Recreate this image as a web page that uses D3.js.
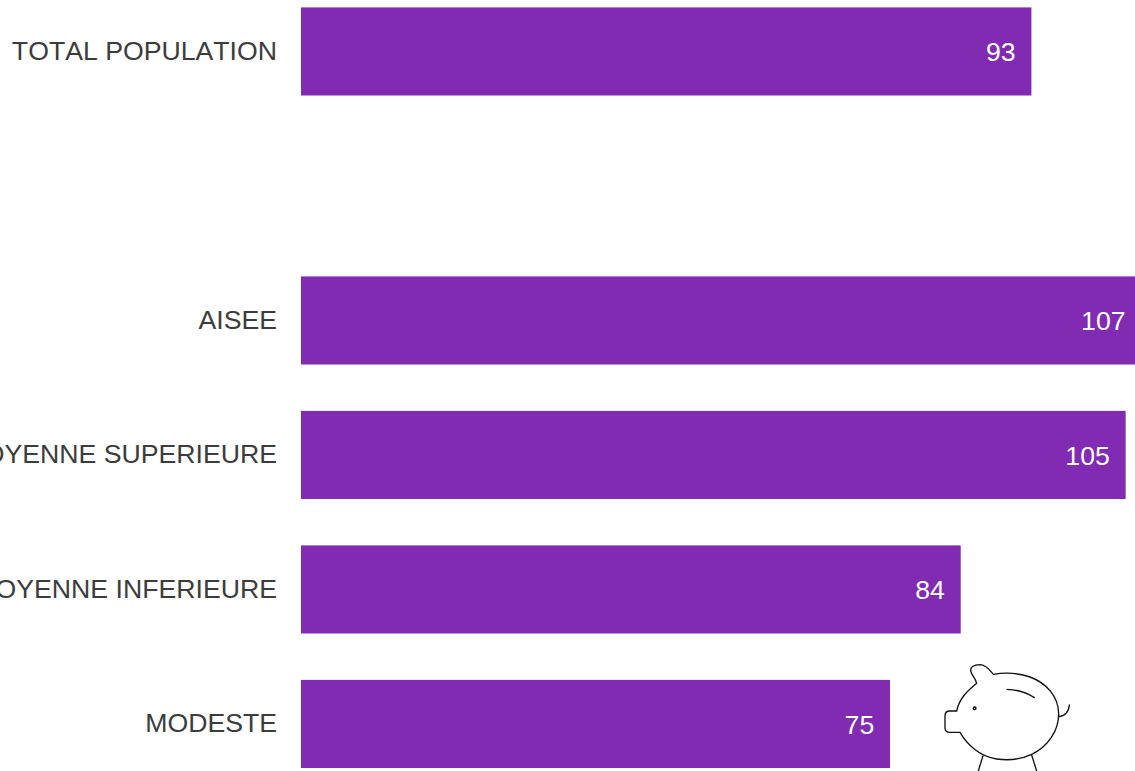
<!DOCTYPE html>
<html>
<head>
<meta charset="utf-8">
<script src="https://cdn.jsdelivr.net/npm/d3@7"></script>
<style>
  html, body { margin: 0; padding: 0; background: #fff; overflow: hidden; }
  svg { display: block; }
  text { font-family: "Liberation Sans", Arial, sans-serif; font-size: 26.67px; font-kerning: none; }
</style>
</head>
<body>
<svg id="chart" width="1135" height="771"></svg>
<script>
// Spending index per income group; the empty slot separates the total from the groups.
const categories = ["TOTAL POPULATION", "", "AISEE", "MOYENNE SUPERIEURE", "MOYENNE INFERIEURE", "MODESTE"];
const values = [93, null, 107, 105, 84, 75];

const barColor = "#812bb3";
const labelColor = "#3c3c3c";

const svg = d3.select("#chart");

const x = d3.scaleLinear().domain([0, 93]).range([301, 1031.4]);
const y = d3.scaleBand()
  .domain(categories)
  .range([7.4, 768])
  .paddingInner(46.4 / 134.5)
  .paddingOuter(0);

const rows = categories
  .map((name, i) => ({ name, value: values[i] }))
  .filter(d => d.value !== null);

const yAxis = d3.axisLeft(y)
  .tickValues(rows.map(d => d.name))
  .tickSize(0)
  .tickPadding(24);

const axisG = svg.append("g")
  .attr("transform", `translate(${x(0)},0)`)
  .call(yAxis);
axisG.select(".domain").remove();
axisG.selectAll("text")
  .attr("fill", labelColor)
  .attr("dy", "0.32em");
axisG.attr("font-size", null).attr("font-family", null);

svg.append("g").selectAll("rect")
  .data(rows)
  .join("rect")
  .attr("x", x(0))
  .attr("y", d => y(d.name))
  .attr("width", d => x(d.value) - x(0))
  .attr("height", y.bandwidth())
  .attr("fill", barColor);

svg.append("g").selectAll("text")
  .data(rows)
  .join("text")
  .attr("x", d => x(d.value) - 15.8)
  .attr("y", d => y(d.name) + y.bandwidth() / 2)
  .attr("dy", "0.36em")
  .attr("text-anchor", "end")
  .attr("fill", "#ffffff")
  .text(d => d.value);

// Piggy bank line drawing beside the last bar.
const pig = svg.append("g")
  .attr("transform", "translate(930,655) scale(0.3333)")
  .attr("fill", "none")
  .attr("stroke", "#111")
  .attr("stroke-width", 4)
  .attr("stroke-linecap", "round")
  .attr("stroke-linejoin", "round");

pig.append("path").attr("d",
  "M80,168 C88,130 112,108 140,85 C136,68 122,58 122,45 C122,34 135,30 150,29 " +
  "C168,29 180,46 190,58 C225,52 262,53 300,66 C350,84 385,125 386,175 " +
  "C387,225 355,275 305,298 C275,312 235,317 200,312 C150,304 112,270 90,232 " +
  "L60,232 C50,232 45,226 45,218 L45,182 C45,174 50,168 60,168 Z");
pig.append("path").attr("d", "M231,103 C262,104 292,114 313,128");
pig.append("path").attr("d", "M386,185 C404,184 417,170 418,150");
pig.append("path").attr("d", "M159,302 L145,348");
pig.append("path").attr("d", "M305,300 L320,348");
pig.append("circle").attr("cx", 134).attr("cy", 160).attr("r", 4);
</script>
</body>
</html>
